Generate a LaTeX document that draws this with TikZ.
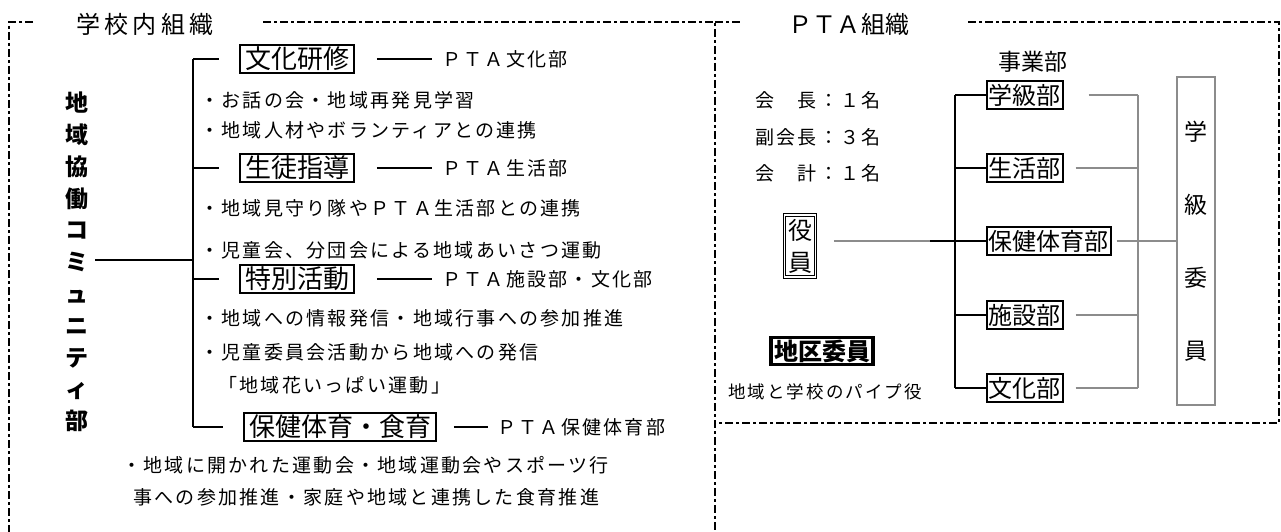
\documentclass[tikz,border=0pt]{standalone}
\usepackage{fontspec}
\setmainfont{Noto Sans CJK JP}
\newfontfamily\jpls{Noto Sans CJK JP}[LetterSpace=12]
\newfontfamily\jpt{Noto Sans CJK JP}[LetterSpace=17]
\newfontfamily\jpp{Noto Sans CJK JP}[LetterSpace=2]
\begin{document}
\begin{tikzpicture}[x=1pt,y=-1pt]
\tikzset{
 dline/.style={line width=2pt, dash pattern=on 8pt off 3pt on 3pt off 3pt},
 ln/.style={line width=1.6pt},
 gln/.style={line width=1.6pt, draw=gray!90},
 tx/.style={anchor=west, inner sep=0pt, font=\jpls\fontsize{19pt}{21pt}\selectfont},
 lbox/.style={draw, line width=1.5pt, inner xsep=5pt, inner ysep=2pt, font=\fontsize{26pt}{28pt}\selectfont},
 rbox/.style={draw, line width=1.5pt, inner xsep=2pt, inner ysep=3pt, font=\fontsize{24pt}{26pt}\selectfont, anchor=west},
}
\useasboundingbox (0,0) rectangle (1281,532);
% dashed frames
\draw[dline] (33,22) -- (9,22) -- (9,532);
\draw[dline] (263,22) -- (715,22) -- (715,532);
\draw[dline] (715,22) -- (740,22);
\draw[dline] (968,22) -- (1279,22) -- (1279,423) -- (715,423);
% titles
\node[font=\jpt\fontsize{24pt}{26pt}\selectfont, inner sep=0] (t1) at (145,24) {学校内組織};
\node[font=\jpp\fontsize{24pt}{26pt}\selectfont, inner sep=0] (t2) at (849,24) {ＰＴＡ組織};
% left part
\node[font=\bfseries\fontsize{23pt}{31.8pt}\selectfont, align=center, inner sep=0] (vt) at (77,262) {地\\域\\協\\働\\コ\\ミ\\ュ\\ニ\\テ\\ィ\\部};
\node[lbox] (b1) at (297,59) {文化研修};
\node[lbox] (b2) at (297,168) {生徒指導};
\node[lbox] (b3) at (297,279) {特別活動};
\node[lbox] (b4) at (340,427) {保健体育・食育};
\coordinate (spx) at (193,0);
\coordinate (mi) at (95,260);
\draw[ln] (b1 -| spx) -- (b4 -| spx);
\foreach \b in {b1,b2,b3,b4} \draw[ln, shorten >=20pt] (\b -| spx) -- (\b.west);
\draw[ln] (mi) -- (mi -| spx);
\node[tx] (p1) at (442,59) {ＰＴＡ文化部};
\node[tx] (p2) at (442,168) {ＰＴＡ生活部};
\node[tx] (p3) at (442,279) {ＰＴＡ施設部・文化部};
\node[tx] (p4) at (497,427) {ＰＴＡ保健体育部};
\draw[ln, shorten <=22pt, shorten >=10pt] (b1.east) -- (p1.west);
\draw[ln, shorten <=22pt, shorten >=10pt] (b2.east) -- (p2.west);
\draw[ln, shorten <=22pt, shorten >=10pt] (b3.east) -- (p3.west);
\draw[ln, shorten <=17pt, shorten >=9pt] (b4.east) -- (p4.west);
\node[tx] (l1) at (200,100) {・お話の会・地域再発見学習};
\node[tx] (l2) at (200,130) {・地域人材やボランティアとの連携};
\node[tx] (l3) at (200,208) {・地域見守り隊やＰＴＡ生活部との連携};
\node[tx] (l4) at (200,250) {・児童会、分団会による地域あいさつ運動};
\node[tx] (l5) at (200,318) {・地域への情報発信・地域行事への参加推進};
\node[tx] (l6) at (200,352) {・児童委員会活動から地域への発信};
\node[tx] (l7) at (218,385) {「地域花いっぱい運動」};
\node[tx] (l8) at (122,465) {・地域に開かれた運動会・地域運動会やスポーツ行};
\node[tx] (l9) at (133,497) {事への参加推進・家庭や地域と連携した食育推進};
% right part
\node[font=\fontsize{23pt}{25pt}\selectfont, inner sep=0] (jg) at (1033,62) {事業部};
\node[tx] (k1) at (755,100) {会　長：１名};
\node[tx] (k2) at (755,137) {副会長：３名};
\node[tx] (k3) at (755,173) {会　計：１名};
\node[draw, double, line width=0.9pt, double distance=1.6pt, minimum width=31pt, minimum height=62pt, inner sep=0, align=center, font=\fontsize{24pt}{32pt}\selectfont] (yk) at (800,246) {役\\員};
\node[rbox] (r1) at (986,95) {学級部};
\node[rbox] (r2) at (986,168) {生活部};
\node[rbox] (r3) at (986,241) {保健体育部};
\node[rbox] (r4) at (986,315) {施設部};
\node[rbox] (r5) at (986,388) {文化部};
\coordinate (rsx) at (955,0);
\coordinate (gsx) at (1138,0);
\coordinate (jn) at (930,241);
\draw[gln, shorten <=18pt] (yk.east |- jn) -- (jn);
\draw[ln] (jn) -- (jn -| rsx);
\draw[ln] (r1 -| rsx) -- (r5 -| rsx);
\foreach \r in {r1,r2,r3,r4,r5} \draw[ln] (\r -| rsx) -- (\r.west);
\draw[gln] (r1 -| gsx) -- (r5 -| gsx);
\draw[gln, shorten <=25pt] (r1.east) -- (r1 -| gsx);
\draw[gln, shorten <=12pt] (r2.east) -- (r2 -| gsx);
\draw[gln, shorten <=5pt] (r3.east) -- (r3 -| gsx);
\draw[gln, shorten <=12pt] (r4.east) -- (r4 -| gsx);
\draw[gln, shorten <=12pt] (r5.east) -- (r5 -| gsx);
\node[draw=gray!90, line width=1.6pt, minimum width=38pt, minimum height=328pt, align=center, font=\fontsize{23pt}{73pt}\selectfont, inner sep=0] (gk) at (1196,241) {学\\級\\委\\員};
\draw[gln] (r3 -| gsx) -- (gk.west);
\node[draw, line width=3.5pt, font=\bfseries\fontsize{24pt}{26pt}\selectfont, inner xsep=3pt, inner ysep=2pt] (dk) at (822,351) {地区委員};
\node[font=\jpls\fontsize{17.5pt}{19pt}\selectfont, inner sep=0] (dk2) at (825,392) {地域と学校のパイプ役};
\end{tikzpicture}
\end{document}
